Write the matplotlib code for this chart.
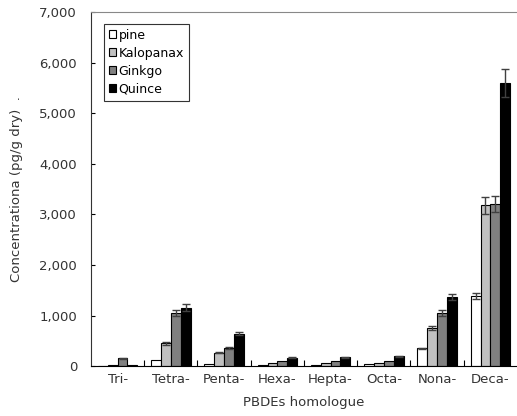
import matplotlib

matplotlib.use("Agg")
import matplotlib.pyplot as plt
import numpy as np
from matplotlib.ticker import FuncFormatter, FixedLocator

homologues = ["Tri-", "Tetra-", "Penta-", "Hexa-", "Hepta-", "Octa-", "Nona-", "Deca-"]
species = ["pine", "Kalopanax", "Ginkgo", "Quince"]

pine = [10, 130, 50, 20, 30, 40, 350, 1390]
kalopanax = [25, 450, 260, 70, 70, 60, 760, 3180]
ginkgo = [150, 1050, 360, 100, 110, 100, 1050, 3210]
quince = [30, 1150, 640, 160, 175, 190, 1370, 5600]

pine_err = [0, 0, 0, 0, 0, 0, 15, 60]
kalopanax_err = [0, 30, 10, 0, 0, 0, 40, 170]
ginkgo_err = [10, 50, 20, 0, 0, 0, 60, 160]
quince_err = [0, 70, 30, 10, 10, 10, 60, 280]

colors = ["white", "#c0c0c0", "#808080", "black"]

plt.rcParams["font.family"] = ["DejaVu Sans"]

fig = plt.figure(figsize=(5.17, 4.16), dpi=100)
ax = fig.add_axes([0.176, 0.12, 0.824, 0.851])

x = np.arange(len(homologues))
width = 0.185
series = [pine, kalopanax, ginkgo, quince]
errs = [pine_err, kalopanax_err, ginkgo_err, quince_err]
for i, (vals, err, col, name) in enumerate(zip(series, errs, colors, species)):
    pos = x + (i - 1.5) * width
    ax.bar(pos, vals, width, color=col, edgecolor="black", linewidth=0.8,
           label=name, zorder=2)
    e = np.array(err)
    m = e > 0
    ax.errorbar(pos[m], np.array(vals)[m], yerr=e[m], fmt="none",
                ecolor="#404040", elinewidth=1.0, capsize=3, capthick=1.0,
                zorder=3)

ax.set_xlim(-0.5, len(homologues) - 0.5)
ax.set_ylim(0, 7000)
ax.set_yticks(np.arange(0, 7001, 1000))
ax.yaxis.set_major_formatter(FuncFormatter(lambda v, p: f"{int(v):,}"))
ax.set_xticks(x)
ax.set_xticklabels(homologues)
ax.xaxis.set_minor_locator(FixedLocator(np.arange(0.5, len(homologues) - 0.5, 1)))
ax.tick_params(axis="x", which="major", length=0, pad=5, labelsize=9.5, labelcolor="#333333")
ax.tick_params(axis="x", which="minor", length=4, direction="in", width=0.8)
ax.tick_params(axis="y", length=3, direction="in", labelsize=9.5, labelcolor="#333333",
               pad=10)

ax.spines["right"].set_visible(False)
ax.spines["top"].set_color("#888888")
ax.spines["left"].set_color("#333333")
ax.spines["bottom"].set_color("black")

ax.set_xlabel("PBDEs homologue", fontsize=9.5, color="#333333", labelpad=7)
ax.set_ylabel("Concentrationa (pg/g dry)  .", fontsize=9.5, color="#333333",
              labelpad=12)

leg = ax.legend(loc="upper left", bbox_to_anchor=(0.015, 0.985), fontsize=9,
                handlelength=0.6, handleheight=0.6, handletextpad=0.2,
                labelspacing=0.4, borderpad=0.4, fancybox=False,
                edgecolor="#333333", framealpha=1)
leg.get_frame().set_linewidth(0.8)

fig.savefig("out.png", dpi=100)
